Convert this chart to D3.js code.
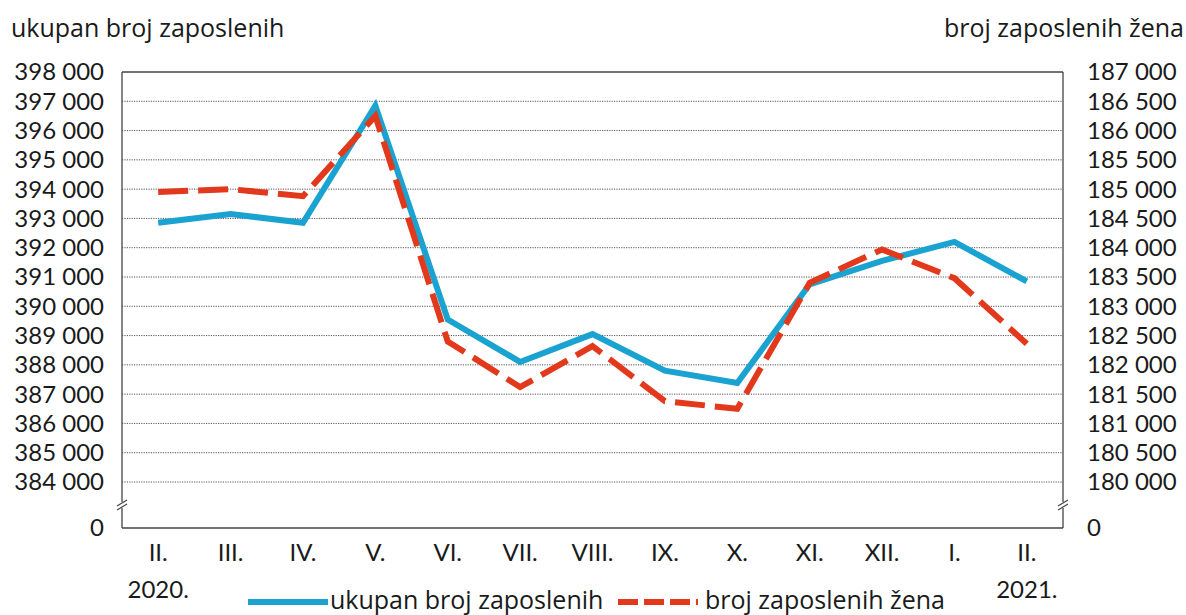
<!DOCTYPE html>
<html>
<head>
<meta charset="utf-8">
<script src="https://cdn.jsdelivr.net/npm/d3@7"></script>
<style>
	body { margin: 0; background: #fff; }
	text { font-family: Lato, "Open Sans", sans-serif; fill: #1a1a1a; }
	text.lbl { font-family: "Open Sans", "Noto Sans", sans-serif; }
</style>
</head>
<body>
<svg id="chart" width="1186" height="615"></svg>
<script>
// Months, Feb 2020 - Feb 2021
const months = ["II.", "III.", "IV.", "V.", "VI.", "VII.", "VIII.", "IX.", "X.", "XI.", "XII.", "I.", "II."];
// total employed (left axis)
const ukupno = [392850, 393150, 392850, 396850, 389550, 388100, 389050, 387800, 387380, 390750, 391550, 392200, 390850];
// employed women (right axis)
const zene = [184950, 185000, 184880, 186250, 182400, 181620, 182320, 181380, 181250, 183400, 183970, 183480, 182360];
const leftTicks = d3.range(384000, 398001, 1000);
const rightTicks = d3.range(180000, 187001, 500);

const svg = d3.select("#chart");
const margin = { left: 122, right: 1063, top: 72, bottom: 528 };
const fmt = d3.formatLocale({ decimal: ",", thousands: " ", grouping: [3] }).format(",");

const x = d3.scaleBand()
	.domain(d3.range(months.length))
	.range([margin.left, margin.right]);
const cx = (i) => x(i) + x.bandwidth() / 2;

const yL = d3.scaleLinear().domain([384000, 398000]).range([482, margin.top]);
const yR = d3.scaleLinear().domain([180000, 187000]).range([482, margin.top]);

// grid lines
svg.append("g")
	.selectAll("line")
	.data(leftTicks.slice(0, -1))
	.join("line")
	.attr("x1", margin.left)
	.attr("x2", margin.right)
	.attr("y1", (d) => yL(d))
	.attr("y2", (d) => yL(d))
	.attr("stroke", "#555")
	.attr("stroke-width", 1)
	.attr("stroke-dasharray", "1.2,1.2");

// frame with breaks
const breakY = 505;
const frame = svg.append("g").attr("stroke", "#444").attr("stroke-width", 1.3).attr("fill", "none");
frame.append("line").attr("x1", margin.left).attr("x2", margin.right).attr("y1", margin.top).attr("y2", margin.top);
frame.append("line").attr("x1", margin.left).attr("x2", margin.right).attr("y1", margin.bottom).attr("y2", margin.bottom);
[margin.left, margin.right].forEach((ax) => {
	frame.append("line").attr("x1", ax).attr("x2", ax).attr("y1", margin.top).attr("y2", breakY - 3);
	frame.append("line").attr("x1", ax).attr("x2", ax).attr("y1", breakY + 3).attr("y2", margin.bottom);
	[-2, 2].forEach((o) => {
		svg.append("line")
			.attr("x1", ax - 5).attr("x2", ax + 5)
			.attr("y1", breakY + o + 3).attr("y2", breakY + o - 3)
			.attr("stroke", "#444").attr("stroke-width", 1.2);
	});
});

// left axis labels
const axisFont = "24px";
svg.append("g")
	.selectAll("text")
	.data(leftTicks)
	.join("text")
	.attr("x", 104)
	.attr("y", (d) => yL(d))
	.attr("dy", "0.35em")
	.attr("text-anchor", "end")
	.style("font-size", axisFont)
	.text((d) => fmt(d));
svg.append("text").attr("x", 104).attr("y", margin.bottom).attr("dy", "0.35em")
	.attr("text-anchor", "end").style("font-size", axisFont).text("0");

// right axis labels
svg.append("g")
	.selectAll("text")
	.data(rightTicks)
	.join("text")
	.attr("x", 1087)
	.attr("y", (d) => yR(d))
	.attr("dy", "0.35em")
	.style("font-size", axisFont)
	.text((d) => fmt(d));
svg.append("text").attr("x", 1087).attr("y", margin.bottom).attr("dy", "0.35em")
	.style("font-size", axisFont).text("0");

// x labels
svg.append("g")
	.selectAll("text")
	.data(months)
	.join("text")
	.attr("x", (d, i) => cx(i))
	.attr("y", 553)
	.attr("dy", "0.35em")
	.attr("text-anchor", "middle")
	.style("font-size", axisFont)
	.text((d) => d);
svg.append("text").attr("x", cx(0)).attr("y", 590).attr("dy", "0.35em")
	.attr("text-anchor", "middle").style("font-size", axisFont).text("2020.");
svg.append("text").attr("x", cx(months.length - 1)).attr("y", 590).attr("dy", "0.35em")
	.attr("text-anchor", "middle").style("font-size", axisFont).text("2021.");

// axis titles
svg.append("text").attr("class", "lbl").attr("x", 11).attr("y", 37)
	.style("font-size", "25px").text("ukupan broj zaposlenih");
svg.append("text").attr("class", "lbl").attr("x", 1184).attr("y", 37)
	.attr("text-anchor", "end").style("font-size", "25px").text("broj zaposlenih žena");

// lines
const blue = "#1aa3d1";
const red = "#e2381b";
const lineL = d3.line().x((d, i) => cx(i)).y((d) => yL(d));
const lineR = d3.line().x((d, i) => cx(i)).y((d) => yR(d));

svg.append("path")
	.datum(ukupno)
	.attr("d", lineL)
	.attr("fill", "none")
	.attr("stroke", blue)
	.attr("stroke-width", 6);

svg.append("path")
	.datum(zene)
	.attr("d", lineR)
	.attr("fill", "none")
	.attr("stroke", red)
	.attr("stroke-width", 6)
	.attr("stroke-dasharray", "30,10");

// legend
const legY = 602;
svg.append("line").attr("x1", 248).attr("x2", 328).attr("y1", legY).attr("y2", legY)
	.attr("stroke", blue).attr("stroke-width", 6);
svg.append("text").attr("class", "lbl").attr("x", 330).attr("y", 609)
	.style("font-size", "25px").text("ukupan broj zaposlenih");
svg.append("line").attr("x1", 618).attr("x2", 698).attr("y1", legY).attr("y2", legY)
	.attr("stroke", red).attr("stroke-width", 6).attr("stroke-dasharray", "20,6,20,6,20,6,2,20");
svg.append("text").attr("class", "lbl").attr("x", 705).attr("y", 609)
	.style("font-size", "25px").text("broj zaposlenih žena");
</script>
</body>
</html>
